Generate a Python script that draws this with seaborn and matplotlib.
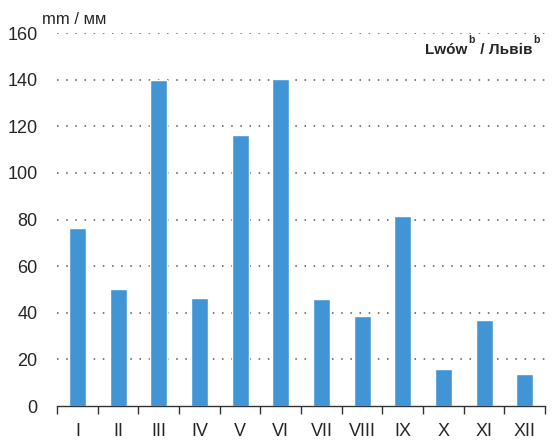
import numpy as np
import pandas as pd
import seaborn as sns
import matplotlib.pyplot as plt

months = ['I', 'II', 'III', 'IV', 'V', 'VI', 'VII', 'VIII', 'IX', 'X', 'XI', 'XII']
precip = [76.4, 50.2, 139.9, 46.3, 116.3, 140.3, 45.9, 38.6, 81.5, 15.9, 36.9, 13.7]
yticks = [0, 20, 40, 60, 80, 100, 120, 140, 160]

sns.set_style('white')
plt.rcParams['font.family'] = ['Liberation Sans', 'DejaVu Sans']

df = pd.DataFrame({'month': months, 'mm': precip})

fig = plt.figure(figsize=(5.54, 4.40), dpi=100)
ax = fig.add_axes([0.103, 0.077, 0.881, 0.848])
sns.barplot(data=df, x='month', y='mm', color='#4295d4', saturation=1, width=0.42, ax=ax)

ax.set_ylim(0, 160)
ax.set_xlim(-0.5, 11.5)
ax.set_yticks(yticks)
ax.set_xlabel('')
ax.set_ylabel('')
for y in yticks[1:]:
    ax.axhline(y, color='#555555', lw=1.1, ls=(0, (1, 5)), zorder=0)

for s in ['left', 'right', 'top']:
    ax.spines[s].set_visible(False)
ax.spines['bottom'].set_color('#333333')
ax.spines['bottom'].set_linewidth(1.0)

ax.set_xticks(np.arange(-0.5, 12, 1), minor=True)
ax.tick_params(axis='x', which='minor', length=6, width=1, color='#333333', bottom=True)
ax.tick_params(axis='x', which='major', length=0, pad=12, labelsize=13)
ax.tick_params(axis='y', length=0, pad=14, labelsize=13)

fig.text(0.075, 0.955, 'mm / мм', fontsize=12, ha='left', va='center')

# station label with raised superscripts, laid out piece by piece
renderer = fig.canvas.get_renderer()
parts = [('Lwów', 11, 0), ('b', 7.5, 10), (' / Львів', 11, 0), ('b', 7.5, 10)]
x = 425
for txt, size, dy in parts:
    t = fig.text(x / 554, (390 + dy) / 440, txt, fontsize=size, fontweight='bold',
                 ha='left', va='center')
    x = t.get_window_extent(renderer).x1 + 1

fig.savefig('out.png', dpi=100)
